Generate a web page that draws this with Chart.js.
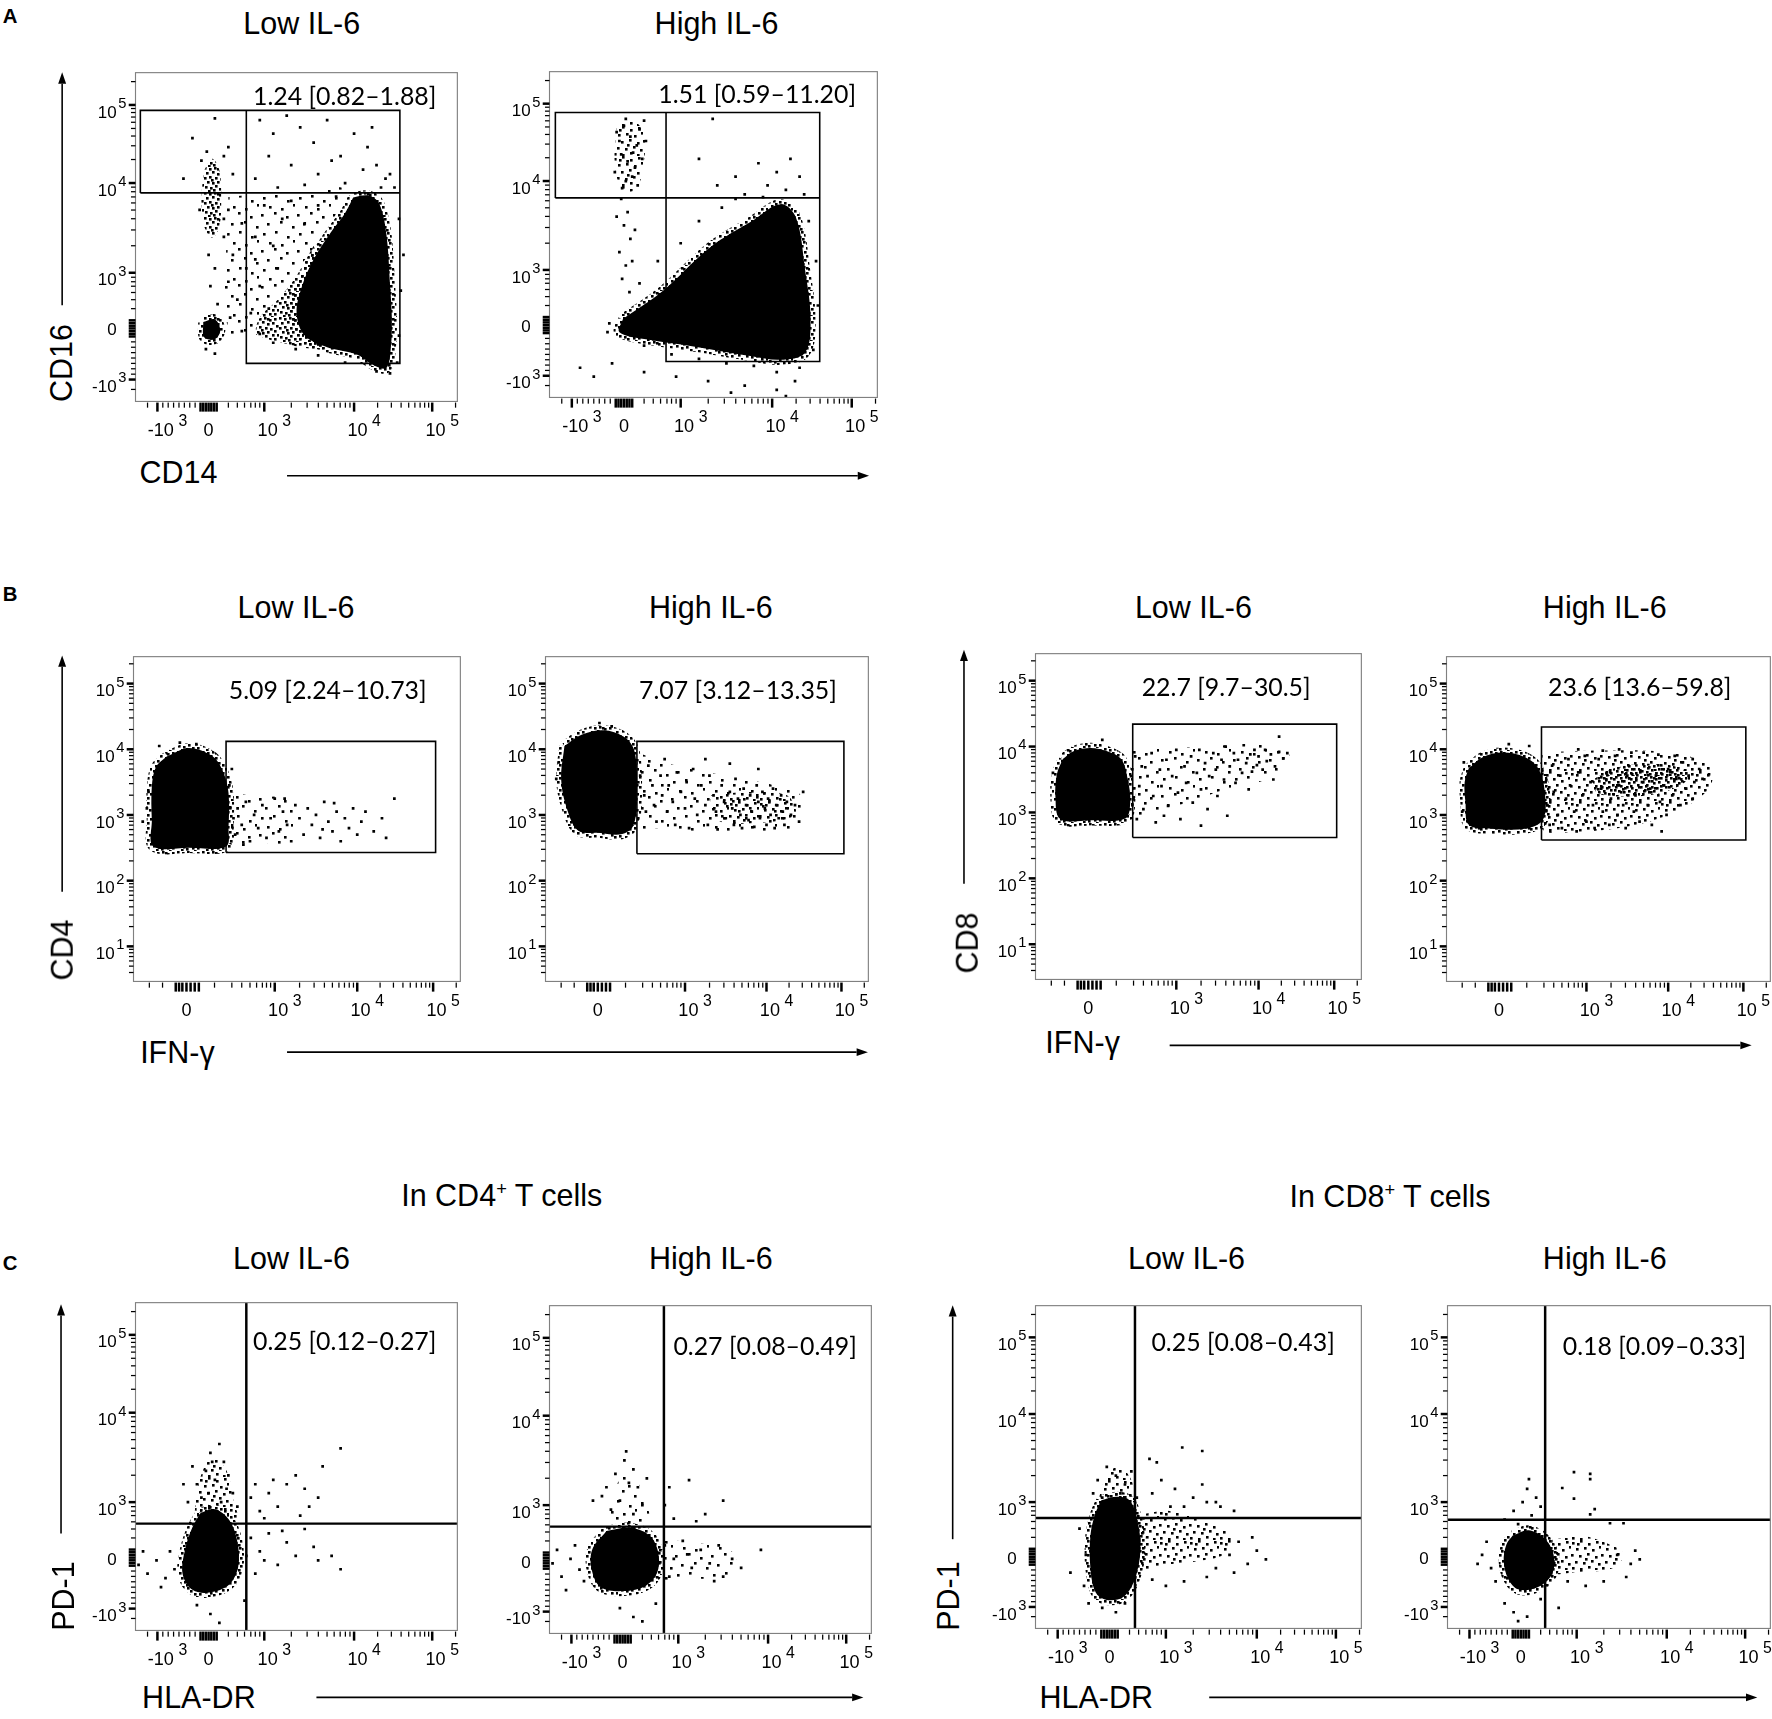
<!DOCTYPE html>
<html>
<head>
<meta charset="utf-8">
<script src="https://cdn.jsdelivr.net/npm/chart.js@4.4.1/dist/chart.umd.min.js"></script>
<style>
  body { margin: 0; background: #fff; }
  #page { position: relative; width: 1772px; height: 1719px; overflow: hidden;
          font-family: "Liberation Sans", Arial, sans-serif; color: #000; }
  #page canvas { position: absolute; }
  .t { position: absolute; transform: translate(-50%, -50%); white-space: nowrap; line-height: 1; }
  .note { font-family: Lato, "Open Sans", sans-serif; }
  .t sup { font-size: 60%; vertical-align: 0.6em; line-height: 0; }
  svg { position: absolute; left: 0; top: 0; }
</style>
</head>
<body>
<div id="page"></div>
<script>
// all values are in display decades: 10^3 -> 3, 10^4 -> 4 (biexponential axes)

// ---- panel A : CD14 (x) vs CD16 (y) ----
const a1Core = [[3.99,3.84],[4.16,3.86],[4.28,3.77],[4.36,3.43],[4.40,2.87],[4.42,2.51],[4.41,2.17],[4.36,1.94],[4.22,1.97],[4.03,2.09],[3.70,2.17],[3.45,2.30],[3.36,2.55],[3.42,2.85],[3.55,3.15],[3.74,3.45],[3.89,3.65]];
const a1Halo = [[3.55,3.30],[3.35,2.95],[3.15,2.70],[2.95,2.50],[2.92,2.32],[3.20,2.22],[3.55,2.15],[3.75,2.18],[3.50,2.40],[3.48,2.70],[3.62,3.00]];
const a1Mid = [[2.60,3.85],[3.40,3.90],[3.90,3.92],[3.60,3.35],[3.30,2.95],[3.00,2.55],[2.90,2.30],[2.60,2.35]];
const a1Cd16 = [[2.33,4.14],[2.42,4.27],[2.50,4.14],[2.52,3.83],[2.50,3.52],[2.42,3.39],[2.33,3.52],[2.30,3.83]];
const a1Zero = [[2.32,2.45],[2.45,2.48],[2.51,2.36],[2.45,2.26],[2.33,2.28]];
const a1Dots = [[2.95,4.70],[3.10,4.55],[3.25,4.75],[3.40,4.62],[3.55,4.45],[3.70,4.70],[3.85,4.30],[4.00,4.55],[4.15,4.40],[4.25,4.20],[4.35,4.05],[3.30,4.20],[3.60,4.10],[3.05,4.30],[3.90,4.00],[4.10,4.15],[4.30,3.95],[4.40,4.10],[3.45,3.98],[3.75,4.25],[2.90,4.05],[4.20,4.62],[3.15,3.95],[4.45,3.95],
  [2.20,4.50],[2.45,4.72],[2.60,4.40],[2.30,4.25],[2.65,4.10],[2.10,4.05],
  [2.60,3.70],[2.75,3.55],[2.90,3.40],[2.65,3.20],[2.80,3.05],[2.95,2.85],[3.10,3.30],[3.20,3.60],[2.70,2.70],[2.85,2.55],[3.05,2.60],[2.60,2.90],[3.30,3.80],[3.00,3.75],[2.55,3.40],[2.75,2.35],[2.62,2.50],[3.15,3.05],[2.90,3.15],
  [3.45,3.55],[3.60,3.75],[3.80,3.85],[4.50,3.60],[4.55,3.20],[4.52,2.80],[4.50,2.30],[4.48,2.00],[4.40,1.88],[4.25,1.90],[3.90,2.00],[3.60,2.08],[3.35,2.15],[3.10,2.22],[2.95,2.32],
  [2.35,2.15],[2.45,2.10],[2.38,3.20],[2.45,3.05],[2.40,2.85],[2.48,2.65],[2.36,4.35],[2.55,4.30],[2.28,3.70],[2.55,3.60]];
const a1Gates = [[[1.62,3.89],[1.62,4.81],[4.51,4.81],[4.51,1.99],[2.80,1.99],[2.80,4.81]], [[1.62,3.89],[4.51,3.89]]];

const a2Blob = [[2.37,2.45],[2.81,2.77],[3.33,3.26],[3.78,3.55],[4.09,3.74],[4.26,3.59],[4.36,3.00],[4.42,2.45],[4.36,2.07],[4.09,1.99],[3.78,2.03],[3.14,2.14],[2.62,2.22],[2.33,2.30]];
const a2Cd16 = [[2.30,4.60],[2.45,4.68],[2.60,4.55],[2.58,4.10],[2.50,3.90],[2.36,3.90],[2.28,4.20]];
const a2Dots = [[2.30,4.55],[2.38,4.62],[2.45,4.50],[2.52,4.40],[2.35,4.30],[2.42,4.22],[2.50,4.15],[2.28,4.10],[2.40,4.00],[2.55,4.58],[2.62,4.45],[2.33,4.45],[2.48,4.32],[2.58,4.25],[2.36,3.92],[2.47,4.05],[2.40,4.70],[2.60,4.68],[2.53,3.95],
  [2.35,3.80],[2.42,3.65],[2.38,3.50],[2.45,3.35],[2.33,3.20],[2.40,3.05],[2.36,2.90],[2.44,2.75],[2.50,3.45],[2.30,3.60],[2.47,3.10],
  [3.35,4.70],[3.20,4.25],[3.60,4.05],[3.85,4.20],[4.05,4.10],[4.20,4.25],[3.95,3.95],[4.30,4.05],[3.70,3.85],[4.15,3.90],[3.40,3.95],[4.35,3.85],
  [3.00,3.30],[3.20,3.55],[3.45,3.70],[3.60,3.80],[3.90,3.82],[4.40,3.55],[4.48,3.10],[4.50,2.60],[4.45,2.10],[4.30,1.90],[4.05,1.85],[3.80,1.92],[3.50,1.95],[3.20,2.00],[2.90,2.05],[2.60,2.15],[2.75,3.10],[2.55,2.85],[2.22,2.40],[2.20,2.30],
  [1.90,1.90],[2.05,1.80],[2.25,1.95],[2.60,1.85],[2.95,1.80],[3.30,1.75],[3.70,1.70],[4.05,1.65],[4.25,1.75],[3.55,1.62],[4.15,1.58]];
const a2Gates = [[[1.63,3.81],[1.63,4.77],[4.52,4.77],[4.52,1.97],[2.84,1.97],[2.84,4.77]], [[1.63,3.81],[4.52,3.81]]];

// ---- panel B : IFN-g (x, biex) vs CD4 / CD8 (y, log decades) ----
const b1Blob = [[1.69,3.89],[1.96,4.02],[2.25,3.89],[2.38,3.64],[2.44,3.33],[2.44,2.82],[2.41,2.52],[1.96,2.50],[1.53,2.52],[1.51,2.92],[1.51,3.43],[1.56,3.73]];
const b1Tail = [[2.44,3.35],[2.80,3.28],[3.20,3.22],[3.20,2.60],[2.80,2.58],[2.44,2.58]];
const b1Dots = [[2.50,2.95],[2.55,3.10],[2.52,2.70],[2.60,2.85],[2.65,3.20],[2.70,2.60],[2.75,3.00],[2.80,2.80],[2.85,3.15],[2.90,2.65],[2.95,2.95],[3.00,3.25],[3.05,2.75],[3.10,3.05],[3.15,2.85],[3.20,2.60],[3.25,3.15],[3.30,2.95],[3.35,2.70],[3.40,3.10],[3.45,2.85],[3.50,3.00],[3.55,2.65],[3.60,3.20],[3.65,2.90],[3.70,2.75],[3.75,3.05],[3.80,2.60],[3.85,2.95],[3.90,2.80],[3.95,3.10],[4.00,2.70],[4.05,2.90],[4.10,3.05],[4.20,2.75],[4.30,2.95],[4.35,2.65],[4.45,3.25],[2.62,2.55],[3.12,3.25],[3.58,2.78],[3.72,3.18],[2.45,3.45],[2.48,3.70],[1.45,3.10],[1.47,3.35],[1.60,4.05],[1.85,4.10],[2.05,4.08],[1.40,2.90]];
const b1Gate = [[[2.41,2.43],[2.41,4.12],[4.95,4.12],[4.95,2.43],[2.41,2.43]]];

const b2Blob = [[1.52,4.05],[1.73,4.22],[2.00,4.29],[2.25,4.19],[2.38,3.97],[2.41,3.36],[2.37,2.85],[2.23,2.71],[1.93,2.73],[1.69,2.76],[1.55,3.10],[1.48,3.54]];
const b2Tail = [[2.41,3.95],[2.90,3.75],[3.50,3.60],[4.10,3.45],[4.42,3.30],[4.42,2.85],[3.80,2.75],[3.20,2.75],[2.60,2.80],[2.41,2.80]];
const b2Band = [[3.30,3.30],[3.80,3.35],[4.25,3.30],[4.35,3.00],[3.90,2.88],[3.40,2.92]];
const b2Dots = [[2.45,3.60],[2.50,3.30],[2.52,3.05],[2.55,3.75],[2.60,3.45],[2.62,3.15],[2.65,2.90],[2.70,3.60],[2.72,3.30],[2.75,3.85],[2.78,3.05],[2.80,3.45],[2.85,3.20],[2.88,2.85],[2.90,3.65],[2.95,3.35],[3.00,3.10],[3.02,3.50],[3.05,2.80],[3.10,3.70],[3.12,3.25],[3.15,3.00],[3.20,3.45],[3.25,3.15],[3.28,2.85],[3.30,3.60],[3.35,3.30],[3.38,3.05],[3.40,2.78],[3.45,3.45],[3.48,3.20],[3.50,2.95],[3.55,3.35],[3.58,3.10],[3.60,2.85],[3.62,3.55],[3.65,3.25],[3.68,3.00],[3.70,2.80],[3.72,3.40],[3.75,3.15],[3.78,2.92],[3.80,3.30],[3.82,3.05],[3.85,2.82],[3.88,3.45],[3.90,3.20],[3.92,2.95],[3.95,3.35],[3.98,3.10],[4.00,2.85],[4.02,3.25],[4.05,3.00],[4.08,3.40],[4.10,2.80],[4.12,3.15],[4.15,2.95],[4.18,3.30],[4.20,3.05],[4.22,2.85],[4.25,3.20],[4.30,3.00],[4.35,3.15],[4.40,2.90],[3.25,3.85],[3.55,3.78],[3.90,3.70],[4.45,3.35],[1.45,3.80],[1.42,3.55],[1.95,4.40],[2.10,4.35]];
const b2Gate = [[[2.41,2.41],[2.41,4.12],[4.95,4.12],[4.95,2.41],[2.41,2.41]]];

const b3Blob = [[1.62,3.81],[1.75,3.93],[1.96,3.98],[2.16,3.93],[2.33,3.81],[2.41,3.50],[2.44,3.16],[2.38,2.91],[1.96,2.88],[1.59,2.90],[1.53,3.24],[1.55,3.59]];
const b3Tail = [[2.44,3.95],[3.00,3.98],[3.60,4.02],[4.20,4.00],[4.38,3.85],[4.20,3.55],[3.60,3.35],[3.00,3.10],[2.44,2.95]];
const b3Dots = [[2.45,3.55],[2.48,3.20],[2.50,3.85],[2.52,2.90],[2.55,3.40],[2.58,3.70],[2.60,3.05],[2.65,3.55],[2.70,3.90],[2.72,3.25],[2.75,2.85],[2.80,3.65],[2.82,3.40],[2.88,3.80],[2.90,3.10],[2.95,3.55],[3.00,3.95],[3.02,3.30],[3.05,2.90],[3.10,3.70],[3.12,3.45],[3.18,3.85],[3.20,3.15],[3.25,3.60],[3.28,3.95],[3.30,3.35],[3.35,3.75],[3.38,3.05],[3.40,3.55],[3.45,3.90],[3.48,3.65],[3.50,3.25],[3.55,3.80],[3.58,3.50],[3.60,4.00],[3.62,2.95],[3.65,3.70],[3.70,3.90],[3.72,3.45],[3.75,3.80],[3.80,3.60],[3.82,4.02],[3.85,3.75],[3.88,3.35],[3.90,3.88],[3.92,3.62],[3.95,3.95],[3.98,3.72],[4.00,3.85],[4.05,3.65],[4.08,3.95],[4.10,3.78],[4.15,3.88],[4.20,3.70],[4.25,3.92],[4.30,3.82],[4.35,3.90],[4.25,4.15],[4.18,3.50],[3.30,2.80],[2.85,2.95],[2.10,4.10],[1.50,3.60]];
const b3Gate = [[[2.47,2.62],[2.47,4.34],[4.95,4.34],[4.95,2.62],[2.47,2.62]]];

const b4Blob = [[1.56,3.71],[1.73,3.88],[1.97,3.95],[2.25,3.88],[2.41,3.71],[2.49,3.36],[2.47,2.93],[2.25,2.79],[1.84,2.79],[1.56,2.85],[1.52,3.19],[1.51,3.50]];
const b4Tail = [[2.45,3.95],[3.20,3.98],[4.00,3.95],[4.50,3.75],[4.50,3.40],[4.00,3.00],[3.40,2.80],[2.90,2.75],[2.45,2.80]];
const b4Band = [[3.07,3.53],[3.34,3.71],[3.75,3.78],[4.16,3.71],[4.23,3.53],[3.89,3.33],[3.48,3.28],[3.14,3.33]];
const b4Dots = [[2.50,3.50],[2.52,3.15],[2.55,2.85],[2.58,3.75],[2.60,3.35],[2.65,3.00],[2.68,3.60],[2.70,2.80],[2.75,3.25],[2.78,3.85],[2.80,3.45],[2.85,3.05],[2.88,2.75],[2.90,3.65],[2.95,3.30],[2.98,3.90],[3.00,2.90],[3.05,3.50],[3.08,3.15],[3.10,2.80],[3.15,3.85],[3.18,3.40],[3.20,3.05],[3.25,3.65],[3.28,2.85],[3.30,3.25],[3.35,3.90],[3.38,3.00],[3.40,3.45],[3.45,3.15],[3.48,2.80],[3.50,3.60],[3.55,3.95],[3.58,3.05],[3.60,3.30],[3.65,2.90],[3.68,3.50],[3.70,3.95],[3.75,3.15],[3.78,3.40],[3.80,2.85],[3.85,3.60],[3.88,3.92],[3.90,3.20],[3.95,3.45],[3.98,3.00],[4.00,3.70],[4.05,3.30],[4.08,3.90],[4.10,3.55],[4.15,3.15],[4.18,3.80],[4.22,3.40],[4.25,3.60],[4.30,3.85],[4.32,3.50],[4.38,3.70],[4.42,3.55],[4.50,3.62],[4.30,3.25],[3.92,2.75],[3.40,4.00],[3.20,3.98],[2.90,4.00],[2.30,4.05],[2.05,4.08],[1.50,3.80],[1.48,3.05]];
const b4Gate = [[[2.45,2.62],[2.45,4.34],[4.95,4.34],[4.95,2.62],[2.45,2.62]]];

// ---- panel C : HLA-DR (x) vs PD-1 (y) ----
const c1Blob = [[2.29,2.88],[2.45,2.92],[2.61,2.80],[2.70,2.56],[2.71,2.28],[2.61,2.08],[2.39,1.99],[2.20,2.02],[2.09,2.20],[2.12,2.48],[2.20,2.72]];
const c1Plume = [[2.22,2.85],[2.28,3.25],[2.42,3.50],[2.58,3.35],[2.66,3.00],[2.70,2.80]];
const c1Dots = [[2.25,3.20],[2.35,3.35],[2.40,3.55],[2.50,3.65],[2.55,3.45],[2.30,3.05],[2.45,3.25],[2.60,3.30],[2.20,3.40],[2.65,3.10],[2.38,3.10],[2.52,3.00],[2.15,3.00],[2.70,2.95],[2.42,3.45],[2.58,3.15],[2.10,3.20],
  [2.85,3.05],[2.95,2.90],[3.05,3.10],[3.15,2.95],[3.25,3.20],[3.35,3.30],[3.45,3.15],[3.50,2.95],[3.60,3.05],[3.65,3.40],[3.10,3.25],[2.90,3.20],[3.85,3.60],[3.40,2.85],[3.00,2.82],
  [2.85,2.60],[2.95,2.45],[3.05,2.65],[3.15,2.30],[3.25,2.55],[3.35,2.40],[3.45,2.70],[3.55,2.50],[3.60,2.35],[3.75,2.40],[3.85,2.25],[2.90,2.20],[3.00,2.35],[3.20,2.68],[2.80,2.40],
  [1.60,2.30],[1.70,2.20],[1.80,2.35],[1.90,2.15],[1.95,2.45],[1.85,2.05],[2.00,2.25],[1.65,2.45],
  [2.25,1.85],[2.40,1.75],[2.50,1.65],[2.78,1.90]];
const c1Gates = [[[2.80,1.4],[2.80,5.4]], [[1.4,2.76],[5.3,2.76]]];

const c2Blob = [[2.20,2.71],[2.45,2.75],[2.67,2.67],[2.77,2.50],[2.77,2.26],[2.64,2.10],[2.39,2.04],[2.14,2.08],[2.04,2.26],[2.04,2.50]];
const c2Tail = [[2.77,2.62],[3.20,2.58],[3.60,2.48],[3.62,2.22],[3.10,2.18],[2.77,2.20]];
const c2Plume = [[2.20,2.75],[2.30,3.20],[2.45,3.35],[2.60,3.15],[2.66,2.78]];
const c2Dots = [[2.20,3.20],[2.30,3.35],[2.40,3.50],[2.50,3.40],[2.55,3.20],[2.35,3.05],[2.45,3.25],[2.60,3.00],[2.25,2.95],[2.15,3.10],[2.65,3.30],[2.50,2.90],[2.42,3.60],[2.05,3.05],
  [2.90,3.20],[3.12,3.28],[3.30,2.90],[3.50,3.05],[2.95,2.85],[3.20,2.82],[2.85,3.00],
  [2.85,2.55],[2.95,2.40],[3.05,2.60],[3.15,2.30],[3.25,2.50],[3.35,2.35],[3.45,2.55],[3.50,2.20],[3.60,2.40],[3.70,2.30],[3.92,2.50],[3.40,2.15],[2.90,2.20],[3.10,2.45],
  [1.60,2.35],[1.70,2.20],[1.80,2.40],[1.90,2.28],[1.75,2.05],[1.95,2.15],[1.65,2.50],[1.85,2.55],
  [2.35,1.85],[2.50,1.75],[2.75,1.90],[2.60,1.70]];
const c2Gates = [[[2.84,1.4],[2.84,5.4]], [[1.4,2.76],[5.3,2.76]]];

const c3Blob = [[2.29,3.02],[2.45,3.06],[2.60,3.02],[2.69,2.78],[2.72,2.45],[2.66,2.13],[2.54,1.93],[2.35,1.89],[2.23,1.97],[2.17,2.25],[2.17,2.62],[2.22,2.86]];
const c3Tail = [[2.72,2.86],[3.04,2.90],[3.41,2.78],[3.72,2.62],[3.65,2.41],[3.35,2.33],[2.97,2.29],[2.72,2.25]];
const c3Plume = [[2.25,3.00],[2.35,3.30],[2.48,3.40],[2.62,3.25],[2.65,3.00]];
const c3Dots = [[2.25,3.25],[2.35,3.40],[2.45,3.30],[2.55,3.20],[2.62,3.35],[2.30,3.05],[2.50,3.10],[2.68,3.05],[2.20,3.10],
  [2.85,3.10],[2.95,3.25],[3.10,3.15],[3.20,2.95],[3.30,3.05],[3.45,3.00],[3.60,2.95],[3.75,2.90],[3.05,2.95],[3.40,3.20],[2.90,3.45],[3.18,3.62],[3.40,3.58],[3.55,3.00],[2.82,3.49],
  [3.70,2.40],[3.80,2.55],[3.90,2.30],[3.95,2.60],[3.75,2.20],[3.45,2.15],[3.20,2.10],[3.00,2.05],[2.85,2.12],[3.55,2.25],[4.00,2.45],[4.10,2.35],
  [2.12,2.40],[2.10,2.05],[2.15,1.85],[2.30,1.80],[2.45,1.75],[2.55,1.85],[2.05,2.70],[1.95,2.20]];
const c3Gates = [[[2.66,1.4],[2.66,5.4]], [[1.4,2.82],[5.3,2.82]]];

const c4Blob = [[2.29,2.62],[2.47,2.68],[2.66,2.57],[2.75,2.37],[2.72,2.17],[2.56,2.03],[2.35,2.01],[2.24,2.13],[2.19,2.33],[2.22,2.52]];
const c4Tail = [[2.72,2.57],[3.03,2.62],[3.34,2.53],[3.52,2.41],[3.40,2.25],[3.03,2.21],[2.72,2.21]];
const c4Dots = [[2.30,2.90],[2.40,3.00],[2.50,2.85],[2.60,2.95],[2.35,2.75],[2.55,3.05],[2.20,2.80],[2.45,3.15],
  [2.47,3.26],[2.84,3.16],[2.97,3.34],[3.15,3.26],[3.20,2.92],[3.15,3.32],[3.37,2.76],[3.52,2.76],[2.97,3.04],[3.15,2.86],
  [3.45,2.40],[3.60,2.30],[3.65,2.45],[3.55,2.15],[3.30,2.10],[3.10,2.05],[2.90,2.10],[3.70,2.35],
  [1.95,2.40],[2.05,2.25],[2.00,2.55],[2.10,2.10],[1.90,2.30],
  [2.20,1.85],[2.30,1.75],[2.35,1.65],[2.45,1.70],[2.60,1.90],[2.80,1.80]];
const c4Gates = [[[2.65,1.4],[2.65,5.4]], [[1.4,2.80],[5.3,2.80]]];

// ---- tick labels: [position, base, exponent] ----
const biexMajors = [[1.81,'-10','3'],[2.38,'0',''],[3,'10','3'],[4,'10','4'],[4.87,'10','5']];
const bxMajors = [[1.93,'0',''],[3,'10','3'],[4,'10','4'],[4.92,'10','5']];
const byMajors = [[1,'10','1'],[2,'10','2'],[3,'10','3'],[4,'10','4'],[5,'10','5']];

const notes = ['1.24 [0.82–1.88]','1.51 [0.59–11.20]','5.09 [2.24–10.73]','7.07 [3.12–13.35]','22.7 [9.7–30.5]','23.6 [13.6–59.8]',
  '0.25 [0.12–0.27]','0.27 [0.08–0.49]','0.25 [0.08–0.43]','0.18 [0.09–0.33]'];

// ---------------------------------------------------------------
const S = 1772 / 1568;
const px = v => v * S;
const page = document.getElementById('page');
const FONT = '"Liberation Sans", Arial, sans-serif';

function between(a, b) { const out = []; for (let m = 2; m < 10; m++) out.push(a + (b - a) * Math.log10(m)); return out; }
function tickSet(majors, bigMinor, smallMinor) {
  return majors.map(m => ({ value: m[0], base: m[1], ex: m[2], big: true, lab: true }))
    .concat(bigMinor.map(v => ({ value: v, big: true })))
    .concat(smallMinor.map(v => ({ value: v, big: false })));
}
const biexTicks = tickSet(biexMajors, [2.29,2.32,2.35,2.41,2.44,2.47],
  [1.70,1.87,1.93,1.99,2.05,2.11,2.17,2.23,2.60,2.70,2.78,2.85,2.90,2.95,5.13].concat(between(3,4), between(4,4.87)));
const bxTicks = tickSet(bxMajors, [1.80,1.84,1.88,1.98,2.03,2.08],
  [1.48,1.64,2.27,2.48,2.60,2.70,2.78,2.85,2.90,2.95,5.20].concat(between(3,4), between(4,4.92)));
let byMinor = [];
for (let k = 0; k < 6; k++) byMinor = byMinor.concat(between(k, k + 1));
const byTicks = tickSet(byMajors, [], byMinor.filter(v => v > 0.5 && v < 5.4));

const axes = {
  biex: { x: [biexTicks, 1.566, 5.15], y: [biexTicks, 1.566, 5.23] },
  ifn:  { x: [bxTicks, 1.288, 5.25],   y: [byTicks, 0.466, 5.41] }
};

function axis(def, pos) {
  const [defs, min, max] = def;
  return {
    type: 'linear', position: pos, min, max,
    border: { display: false },
    grid: { display: false },
    ticks: { display: false, autoSkip: false },
    afterBuildTicks: sc => { sc.ticks = defs.map(d => Object.assign({}, d)); },
    afterFit: sc => { if (pos === 'left') sc.width = px(45); else sc.height = px(35); }
  };
}

// frame, tick marks and "10 + exponent" labels, all placed through the scales
const axisPlugin = {
  id: 'flowAxes',
  afterDatasetsDraw(chart) {
    const { ctx, chartArea: a } = chart;
    const sx = chart.scales.x, sy = chart.scales.y;
    ctx.save();
    ctx.strokeStyle = '#808080';
    ctx.lineWidth = px(1);
    ctx.strokeRect(a.left, a.top, a.right - a.left, a.bottom - a.top);
    ctx.fillStyle = '#000';
    sx.ticks.forEach(t => {
      const x = sx.getPixelForValue(t.value);
      const w = t.big ? px(2.2) : px(1.1), l = t.big ? px(8) : px(4.5);
      ctx.fillRect(x - w / 2, a.bottom + px(1), w, l);
      if (t.lab) {
        ctx.font = px(16) + 'px ' + FONT;
        ctx.textBaseline = 'middle';
        ctx.textAlign = 'center';
        const bx = x + (t.ex ? px(3) : 0);
        ctx.fillText(t.base, bx, a.bottom + px(26));
        if (t.ex) {
          const bw = ctx.measureText(t.base).width;
          ctx.font = px(14) + 'px ' + FONT;
          ctx.textAlign = 'left';
          ctx.fillText(t.ex, bx + bw / 2 + px(4), a.bottom + px(18));
        }
      }
    });
    sy.ticks.forEach(t => {
      const y = sy.getPixelForValue(t.value);
      const w = t.big ? px(2.2) : px(1.1), l = t.big ? px(6) : px(4);
      ctx.fillRect(a.left - l, y - w / 2, l, w);
      if (t.lab) {
        ctx.textBaseline = 'middle';
        ctx.textAlign = 'right';
        ctx.font = px(13) + 'px ' + FONT;
        const ew = ctx.measureText('5').width;
        const right = a.left - px(8);
        if (t.ex) ctx.fillText(t.ex, right, y - px(1));
        ctx.font = px(15) + 'px ' + FONT;
        ctx.fillText(t.base, right - ew - px(1.5), y + (t.ex ? px(7) : px(2)));
      }
    });
    ctx.restore();
  }
};

// stipple textures (style only): dot offsets inside a repeating tile
const denseTile = [[0,0],[5,1],[10,0],[15,2],[20,1],[2,5],[8,4],[13,6],[18,5],[22,8],[0,10],[5,9],[11,10],[16,11],[20,13],[3,14],[8,15],[13,14],[18,17],[1,19],[6,20],[11,18],[15,21],[20,21],[4,23],[9,22],[17,24],[13,1],[7,12],[23,17]];
const mediumTile = [[1,2],[9,0],[17,3],[25,1],[5,8],[13,7],[21,9],[28,6],[0,14],[8,15],[16,13],[24,16],[4,21],[12,22],[20,20],[27,23],[1,27],[9,28],[17,26],[24,28],[14,18],[6,3]];
const sparseTile = [[2,3],[15,1],[27,5],[8,12],[21,10],[33,15],[4,22],[16,20],[28,25],[10,31],[22,33],[34,29]];
function makePattern(ctx, size, dots) {
  const c = document.createElement('canvas');
  c.width = size; c.height = size;
  const g = c.getContext('2d');
  g.fillStyle = '#000';
  dots.forEach(d => g.fillRect(d[0], d[1], 2.6, 2.6));
  return ctx.createPattern(c, 'repeat');
}

const toXY = arr => arr.map(p => ({ x: p[0], y: p[1] }));
function shape(pts, fill, edge, edgeW) {
  return { type: 'line', data: toXY(pts.concat([pts[0]])), borderColor: edge || 'rgba(0,0,0,0)', backgroundColor: fill,
           borderWidth: edgeW || 0, pointRadius: 0, fill: 'shape', tension: 0.35 };
}
function gateLine(pts, w) {
  return { type: 'line', data: toXY(pts), borderColor: '#000', borderWidth: px(w),
           pointRadius: 0, fill: false, tension: 0 };
}

// shapes: [points, fill: 'core' | 'dense' | 'medium' | 'sparse']
const panels = [
  { frame: [120, 64, 405, 355],   kind: 'biex', gates: a1Gates, gw: 1.4, dots: a1Dots, shapes: [[a1Core,'core'],[a1Zero,'core'],[a1Cd16,'dense'],[a1Halo,'dense'],[a1Mid,'sparse']], note: 0, noteAt: [305, 84] },
  { frame: [486, 63, 776, 351],   kind: 'biex', gates: a2Gates, gw: 1.4, dots: a2Dots, shapes: [[a2Blob,'core'],[a2Cd16,'medium']], note: 1, noteAt: [670, 82] },
  { frame: [118, 581, 407, 868],  kind: 'ifn',  gates: b1Gate,  gw: 1.4, dots: b1Dots, shapes: [[b1Blob,'core'],[b1Tail,'sparse']], note: 2, noteAt: [290, 610] },
  { frame: [483, 581, 769, 868],  kind: 'ifn',  gates: b2Gate,  gw: 1.4, dots: b2Dots, shapes: [[b2Blob,'core'],[b2Band,'medium'],[b2Tail,'sparse']], note: 3, noteAt: [653, 610] },
  { frame: [916, 578, 1204, 866], kind: 'ifn',  gates: b3Gate,  gw: 1.4, dots: b3Dots, shapes: [[b3Blob,'core'],[b3Tail,'sparse']], note: 4, noteAt: [1085, 607] },
  { frame: [1280, 581, 1567, 868],kind: 'ifn',  gates: b4Gate,  gw: 1.4, dots: b4Dots, shapes: [[b4Blob,'core'],[b4Band,'dense'],[b4Tail,'medium']], note: 5, noteAt: [1451, 607] },
  { frame: [120, 1153, 405, 1443], kind: 'biex', gates: c1Gates, gw: 2.2, dots: c1Dots, shapes: [[c1Blob,'core'],[c1Plume,'medium']], note: 6, noteAt: [305, 1186] },
  { frame: [486, 1155, 771, 1445], kind: 'biex', gates: c2Gates, gw: 2.2, dots: c2Dots, shapes: [[c2Blob,'core'],[c2Plume,'sparse'],[c2Tail,'sparse']], note: 7, noteAt: [677, 1190] },
  { frame: [916, 1155, 1204, 1441],kind: 'biex', gates: c3Gates, gw: 2.2, dots: c3Dots, shapes: [[c3Blob,'core'],[c3Tail,'medium'],[c3Plume,'medium']], note: 8, noteAt: [1100, 1187] },
  { frame: [1281, 1155, 1567, 1441],kind: 'biex', gates: c4Gates, gw: 2.2, dots: c4Dots, shapes: [[c4Blob,'core'],[c4Tail,'medium']], note: 9, noteAt: [1464, 1190] }
];

panels.forEach(p => {
  const [L, T, R, B] = p.frame;
  const cv = document.createElement('canvas');
  const w = Math.round(px(R - L + 55)), h = Math.round(px(B - T + 40));
  cv.width = w; cv.height = h;
  cv.style.width = w + 'px'; cv.style.height = h + 'px';
  cv.style.left = px(L - 50) + 'px'; cv.style.top = px(T - 5) + 'px';
  page.appendChild(cv);
  const ctx = cv.getContext('2d');
  const pat = { dense: makePattern(ctx, 25, denseTile), medium: makePattern(ctx, 30, mediumTile), sparse: makePattern(ctx, 36, sparseTile) };

  const shapeSets = p.shapes.map(s => s[1] === 'core'
    ? shape(s[0], '#000', pat.dense, px(9))
    : shape(s[0], pat[s[1]]));

  const datasets = []
    .concat(p.gates.map(g => gateLine(g, p.gw)))
    .concat([{ type: 'scatter', data: toXY(p.dots), pointStyle: 'rect', pointRadius: px(1.7),
               backgroundColor: '#000', borderWidth: 0 }])
    .concat(shapeSets);

  new Chart(cv, {
    type: 'scatter',
    data: { datasets },
    options: {
      responsive: false, animation: false, events: [], devicePixelRatio: 1,
      layout: { padding: { left: px(5), right: px(5), top: px(5), bottom: 0 } },
      plugins: { legend: { display: false }, tooltip: { enabled: false } },
      scales: { x: axis(axes[p.kind].x, 'bottom'), y: axis(axes[p.kind].y, 'left') }
    },
    plugins: [axisPlugin]
  });

  text(notes[p.note], p.noteAt[0], p.noteAt[1], 22, 'note');
});

function text(s, x, y, size, cls, rot, bold) {
  const d = document.createElement('div');
  d.className = 't' + (cls ? ' ' + cls : '');
  d.innerHTML = s;
  d.style.left = px(x) + 'px';
  d.style.top = px(y) + 'px';
  d.style.fontSize = px(size) + 'px';
  if (rot) d.style.transform = 'translate(-50%,-50%) rotate(-90deg)';
  if (bold) d.style.fontWeight = 'bold';
  page.appendChild(d);
}

// panel letters and titles
text('A', 9, 14, 18, '', false, true);
text('B', 9, 526, 18, '', false, true);
text('C', 9, 1118, 18, '', false, true);
[['Low IL-6',267,20],['High IL-6',634,20],
 ['Low IL-6',262,537],['High IL-6',629,537],['Low IL-6',1056,537],['High IL-6',1420,537],
 ['In CD4<sup>+</sup> T cells',444,1057],['In CD8<sup>+</sup> T cells',1230,1058],
 ['Low IL-6',258,1113],['High IL-6',629,1113],['Low IL-6',1050,1113],['High IL-6',1420,1113]
].forEach(t => text(t[0], t[1], t[2], 27));

// axis names
[['CD16',54,321],['CD4',55,841],['CD8',856,834],['PD-1',56,1412],['PD-1',839,1412]]
  .forEach(t => text(t[0], t[1], t[2], 27, '', true));
[['CD14',158,418],['IFN-γ',157,931],['IFN-γ',958,922],['HLA-DR',176,1502],['HLA-DR',970,1502]]
  .forEach(t => text(t[0], t[1], t[2], 27));

// axis arrows
const yArrows = [[55,270,64],[55,789,580],[853,782,575],[54,1357,1154],[843,1362,1155]];
const xArrows = [[254,769,421],[254,768,931],[1035,1550,925],[280,764,1502],[1070,1555,1502]];
let svg = '<svg width="1772" height="1719" xmlns="http://www.w3.org/2000/svg">';
const hl = px(10), hw = px(3.5);
yArrows.forEach(([x, y0, y1]) => {
  svg += `<line x1="${px(x)}" y1="${px(y0)}" x2="${px(x)}" y2="${px(y1) + hl}" stroke="#000" stroke-width="${px(1.4)}"/>`;
  svg += `<polygon points="${px(x)},${px(y1)} ${px(x) - hw},${px(y1) + hl} ${px(x) + hw},${px(y1) + hl}" fill="#000"/>`;
});
xArrows.forEach(([x0, x1, y]) => {
  svg += `<line x1="${px(x0)}" y1="${px(y)}" x2="${px(x1) - hl}" y2="${px(y)}" stroke="#000" stroke-width="${px(1.4)}"/>`;
  svg += `<polygon points="${px(x1)},${px(y)} ${px(x1) - hl},${px(y) - hw} ${px(x1) - hl},${px(y) + hw}" fill="#000"/>`;
});
svg += '</svg>';
page.insertAdjacentHTML('beforeend', svg);
</script>
</body>
</html>
